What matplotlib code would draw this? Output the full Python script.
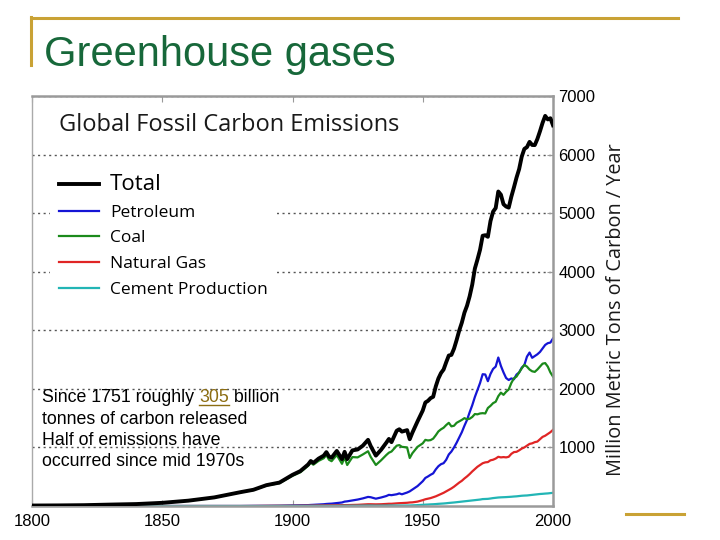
import matplotlib
matplotlib.use('Agg')
import matplotlib.pyplot as plt
from matplotlib.lines import Line2D

# ---- data (million metric tons of carbon per year) ----
years = [1800, 1810, 1820, 1830, 1840, 1850, 1860, 1870, 1880, 1885,
         1890, 1895, 1900, 1903, 1906, 1907, 1908, 1910, 1912, 1913,
         1914, 1915, 1917, 1919, 1920, 1921, 1923, 1925, 1927, 1929,
         1930, 1932, 1934, 1936, 1937, 1938, 1940, 1941, 1942, 1944,
         1945, 1946, 1948] + list(range(1950, 2001))

total = [8, 10, 14, 24, 33, 54, 91, 147, 236, 277,
         356, 400, 532, 596, 709, 768, 735, 809, 860, 920,
         845, 825, 940, 800, 925, 800, 950, 965, 1030, 1130,
         1025, 860, 960, 1080, 1145, 1090, 1285, 1310, 1270, 1295,
         1140, 1250, 1445,
         1630, 1767, 1795, 1841, 1865, 2042, 2177, 2270, 2330, 2454,
         2569, 2580, 2686, 2833, 2995, 3130, 3300, 3420, 3580, 3780,
         4053, 4208, 4376, 4614, 4623, 4596, 4864, 5026, 5087, 5369,
         5315, 5152, 5113, 5094, 5280, 5439, 5607, 5752, 5965, 6097,
         6127, 6217, 6164, 6162, 6266, 6398, 6542, 6660, 6600, 6620,
         6500]

petroleum = [0, 0, 0, 0, 0, 0, 0, 0, 0, 2,
             3, 5, 10, 13, 15, 18, 20, 25, 30, 35,
             38, 40, 50, 60, 75, 80, 95, 110, 130, 155,
             150, 125, 145, 170, 190, 185, 200, 215, 200, 230,
             250, 280, 340,
             423, 479, 504, 533, 557, 625, 679, 714, 731, 789,
             880, 930, 1000, 1080, 1170, 1260, 1370, 1470, 1600, 1720,
             1860, 1980, 2100, 2250, 2245, 2131, 2254, 2340, 2380, 2535,
             2392, 2281, 2185, 2151, 2178, 2163, 2244, 2280, 2362, 2406,
             2550, 2620, 2530, 2560, 2590, 2630, 2690, 2750, 2780, 2790,
             2860]

coal = [8, 10, 14, 24, 33, 54, 91, 147, 234, 274,
        350, 390, 515, 575, 685, 740, 705, 770, 815, 870,
        790, 765, 870, 720, 830, 700, 835, 830, 880, 935,
        840, 700, 780, 870, 910, 930, 1030, 1040, 1010, 1000,
        820, 900, 1010,
        1070, 1129, 1119, 1125, 1150, 1208, 1273, 1309, 1336, 1382,
        1420, 1360, 1370, 1420, 1445, 1470, 1500, 1480, 1490, 1520,
        1570, 1565, 1580, 1585, 1580, 1673, 1710, 1756, 1780, 1875,
        1935, 1898, 1950, 1990, 2100, 2180, 2210, 2280, 2350, 2410,
        2380, 2330, 2300, 2290, 2330, 2380, 2430, 2440, 2380, 2280,
        2210]

natural_gas = [0, 0, 0, 0, 0, 0, 0, 0, 0, 1,
               3, 4, 5, 6, 7, 8, 8, 10, 11, 12,
               12, 13, 14, 15, 15, 15, 18, 20, 25, 30,
               30, 28, 30, 35, 38, 38, 45, 48, 50, 55,
               60, 62, 75,
               100, 115, 125, 135, 150, 165, 185, 205, 225, 250,
               275, 300, 330, 365, 400, 430, 470, 505, 545, 590,
               630, 670, 700, 730, 745, 750, 780, 790, 810, 840,
               830, 835, 830, 840, 890, 920, 925, 950, 980, 1000,
               1030, 1060, 1070, 1090, 1100, 1140, 1180, 1200, 1230, 1260,
               1300]

cement = [0, 0, 0, 0, 0, 0, 0, 0, 0, 0,
          0, 1, 2, 2, 2, 3, 3, 3, 3, 3,
          3, 3, 3, 4, 4, 4, 5, 5, 6, 7,
          7, 5, 6, 7, 8, 8, 8, 8, 8, 9,
          9, 11, 15,
          20, 23, 25, 28, 30, 33, 37, 40, 43, 47,
          52, 56, 60, 65, 70, 75, 80, 85, 90, 95,
          100, 105, 110, 118, 120, 122, 128, 135, 140, 145,
          148, 150, 152, 155, 158, 162, 165, 170, 175, 178,
          180, 185, 190, 195, 200, 205, 208, 212, 215, 220,
          225]

series_labels = ['Total', 'Petroleum', 'Coal', 'Natural Gas', 'Cement Production']
x_ticks = [1800, 1850, 1900, 1950, 2000]
y_ticks = [1000, 2000, 3000, 4000, 5000, 6000, 7000]

W, H = 720, 540
fig = plt.figure(figsize=(7.2, 5.4), dpi=100)


def fx(px):
    return px / W


def fy(py):
    return 1 - py / H


gold = '#c9a235'
# slide frame lines
fig.add_artist(Line2D([fx(31), fx(678)], [fy(17.5), fy(17.5)], color=gold, lw=2.2))
fig.add_artist(Line2D([fx(31.5), fx(31.5)], [fy(17), fy(65)], color=gold, lw=2.2))
fig.add_artist(Line2D([fx(626), fx(684)], [fy(513.5), fy(513.5)], color=gold, lw=2.2))
fig.text(fx(44), fy(66), 'Greenhouse gases', fontsize=30, color='#17683a',
         family='Liberation Sans', va='baseline')

ax = fig.add_axes([fx(32), fy(506), (553 - 32) / W, (506 - 96) / H])

l_pet, = ax.plot(years, petroleum, color='#1515d5', lw=1.6)
l_coal, = ax.plot(years, coal, color='#1b8a1b', lw=1.6)
l_gas, = ax.plot(years, natural_gas, color='#e02525', lw=1.6)
l_cem, = ax.plot(years, cement, color='#22b5b5', lw=1.6)
l_tot, = ax.plot(years, total, color='black', lw=2.8, zorder=4)

ax.set_xlim(1800, 2000)
ax.set_ylim(0, 7000)
ax.set_xticks(x_ticks)
ax.set_yticks(y_ticks)
ax.yaxis.tick_right()
ax.tick_params(direction='in', length=4, color='#999999', top=True, right=True,
               labelsize=12, labelfontfamily='Liberation Sans')
ax.tick_params(axis='x', pad=6)
ax.tick_params(axis='y', pad=4)
ax.grid(axis='y', color='#555555', ls=(0, (1.5, 2.5)), lw=1)
ax.set_axisbelow(True)
for side in ['top', 'right', 'bottom']:
    ax.spines[side].set_color('#9a9a9a')
    ax.spines[side].set_linewidth(1.8)
ax.spines['left'].set_color('#aaaaaa')
ax.spines['left'].set_linewidth(1)

ax.text(0.052, 0.929, 'Global Fossil Carbon Emissions', transform=ax.transAxes,
        fontsize=17, family='Open Sans', color='#1a1a1a', va='center')

leg = ax.legend([l_tot, l_pet, l_coal, l_gas, l_cem], series_labels,
                loc='upper left', bbox_to_anchor=(0.035, 0.831), borderaxespad=0,
                prop={'family': 'Open Sans', 'size': 12.5}, handlelength=2.3,
                handletextpad=0.65, labelspacing=0.55, borderpad=0.5,
                frameon=True, fancybox=False)
leg.get_frame().set_edgecolor('none')
leg.get_frame().set_facecolor('white')
leg.get_frame().set_alpha(1)
leg.get_texts()[0].set_fontsize(16)

ax.set_ylabel('Million Metric Tons of Carbon / Year', family='Open Sans',
              fontsize=14.3, color='#1a1a1a')
ax.yaxis.set_label_position('right')
ax.yaxis.set_label_coords((606 - 32) / 521, (506 - 310) / 410)

# note text with underlined figure
note_font = dict(family='Liberation Sans', fontsize=12.8, color='black', va='baseline')
renderer = fig.canvas.get_renderer()
t1 = fig.text(fx(42), fy(402), 'Since 1751 roughly ', **note_font)
e1 = t1.get_window_extent(renderer)
t2 = fig.text(e1.x1 / W, fy(402), '305', **{**note_font, 'color': '#8c6d12'})
e2 = t2.get_window_extent(renderer)
fig.add_artist(Line2D([e2.x0 / W, e2.x1 / W], [fy(404.5), fy(404.5)], color='#8c6d12', lw=1))
fig.text(e2.x1 / W, fy(402), ' billion', **note_font)
fig.text(fx(42), fy(423.5), 'tonnes of carbon released', **note_font)
fig.text(fx(42), fy(445), 'Half of emissions have', **note_font)
fig.text(fx(42), fy(466.5), 'occurred since mid 1970s', **note_font)

fig.savefig('out.png', dpi=100)
